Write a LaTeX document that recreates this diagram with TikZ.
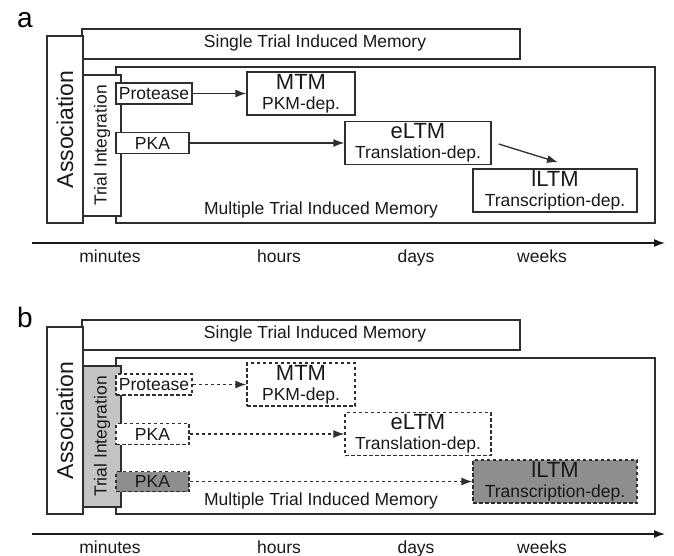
\documentclass[tikz,border=0pt]{standalone}
\usepackage{fontspec}
\setmainfont{Liberation Sans}
\usetikzlibrary{arrows.meta,positioning}
\definecolor{edgegray}{HTML}{2E2E2E}
\definecolor{tilight}{HTML}{C4C4C4}
\definecolor{ltmdark}{HTML}{8E8E8E}
\newcommand{\bigsz}{\fontsize{22}{22}\selectfont}

\begin{document}
\begin{tikzpicture}[x=1pt,y=-1pt,
            box/.style={draw=edgegray,line width=1.3pt,fill=white,inner sep=0pt,align=center,text=black!90,font=\fontsize{17.5}{20}\selectfont},
            dbox/.style={box,dash pattern=on 3.5pt off 2.5pt},
            upright/.style={box,rotate=90},
            txt/.style={inner sep=0pt,text=black!90,font=\fontsize{17.5}{20}\selectfont},
            tick/.style={txt,anchor=base},
            panel/.style={inner sep=0pt,anchor=base west,font=\fontsize{28}{28}\selectfont},
            arr/.style={draw=edgegray,line width=1.3pt,-{Latex[length=11pt,width=8pt]}},
            darr/.style={arr,dash pattern=on 3.5pt off 2.5pt},
            axis/.style={draw=black!90,line width=1.3pt,-{Latex[length=11pt,width=8pt]}}
          ]
          \useasboundingbox (0,0) rectangle (674,556);

          %panel a
          \node[panel] (tagA) at (17,28) {a};
          \node[box,minimum width=438,minimum height=30] (singleA) at (301,44) {};
          \node[txt] (singleLblA) at (315,43) {Single Trial Induced Memory};
          \node[box,minimum width=539,minimum height=156] (multiA) at (385.5,145) {};
          \node[txt] (multiLblA) at (321,210) {Multiple Trial Induced Memory};
          \node[upright,minimum width=187,minimum height=36,font=\fontsize{23}{24}\selectfont] (assocA) at (65,129.5) {Association};
          \node[upright,minimum width=141,minimum height=38] (trialA) at (102,145.5) {Trial Integration};

          %kinases
          \node[box,minimum width=76,minimum height=21] (proteaseA) at (154,93.5) {Protease};
          \node[box,minimum width=73,minimum height=21] (pkaA) at (152.5,143) {PKA};

          %memory phases
          \node[box,minimum width=108,minimum height=43] (mtmA) at (301,93.5) {{\bigsz MTM}\\PKM-dep.};
          \node[box,minimum width=146,minimum height=43] (eltmA) at (418,143) {{\bigsz eLTM}\\Translation-dep.};
          \node[box,minimum width=164,minimum height=43] (lltmA) at (555,190.5) {{\bigsz lLTM}\\Transcription-dep.};
          \path
          (proteaseA) edge[arr] (mtmA)
          (pkaA) edge[arr] (eltmA)
          ;
          \draw[arr] ([shift={(7,1)}]eltmA.east) -- ([shift={(3,-6)}]lltmA.north);

          %time axis
          \coordinate (t0A) at (32,243);
          \coordinate (t1A) at (665,243);
          \draw[axis] (t0A) -- (t1A);
          \node[tick] (minA) at (110,262) {minutes};
          \node[tick] (hrsA) at (279,262) {hours};
          \node[tick] (daysA) at (416,262) {days};
          \node[tick] (wksA) at (542,262) {weeks};

          %panel b
          \begin{scope}[yshift=-291pt]
          \node[panel] (tagB) at (17,36) {b};
          \node[box,minimum width=438,minimum height=30] (singleB) at (301,44) {};
          \node[txt] (singleLblB) at (315,43) {Single Trial Induced Memory};
          \node[box,minimum width=539,minimum height=156] (multiB) at (385.5,145) {};
          \node[txt] (multiLblB) at (321,210) {Multiple Trial Induced Memory};
          \node[upright,minimum width=187,minimum height=36,font=\fontsize{23}{24}\selectfont] (assocB) at (65,129.5) {Association};
          \node[upright,minimum width=141,minimum height=38,fill=tilight] (trialB) at (102,145.5) {Trial Integration};

          %kinases
          \node[dbox,minimum width=76,minimum height=21] (proteaseB) at (154,93.5) {Protease};
          \node[dbox,minimum width=73,minimum height=21] (pkaB) at (152.5,143) {PKA};
          \node[dbox,minimum width=73,minimum height=20,fill=ltmdark] (pkaLateB) at (152.5,190.5) {PKA};

          %memory phases
          \node[dbox,minimum width=108,minimum height=43] (mtmB) at (301,93.5) {{\bigsz MTM}\\PKM-dep.};
          \node[dbox,minimum width=146,minimum height=43] (eltmB) at (418,143) {{\bigsz eLTM}\\Translation-dep.};
          \node[dbox,minimum width=164,minimum height=43,fill=ltmdark] (lltmB) at (555,190.5) {{\bigsz lLTM}\\Transcription-dep.};
          \path
          (proteaseB) edge[darr] (mtmB)
          (pkaB) edge[darr] (eltmB)
          (pkaLateB) edge[darr] (lltmB)
          ;

          %time axis
          \coordinate (t0B) at (32,243);
          \coordinate (t1B) at (665,243);
          \draw[axis] (t0B) -- (t1B);
          \node[tick] (minB) at (110,262) {minutes};
          \node[tick] (hrsB) at (279,262) {hours};
          \node[tick] (daysB) at (416,262) {days};
          \node[tick] (wksB) at (542,262) {weeks};
          \end{scope}
      \end{tikzpicture}
\end{document}
